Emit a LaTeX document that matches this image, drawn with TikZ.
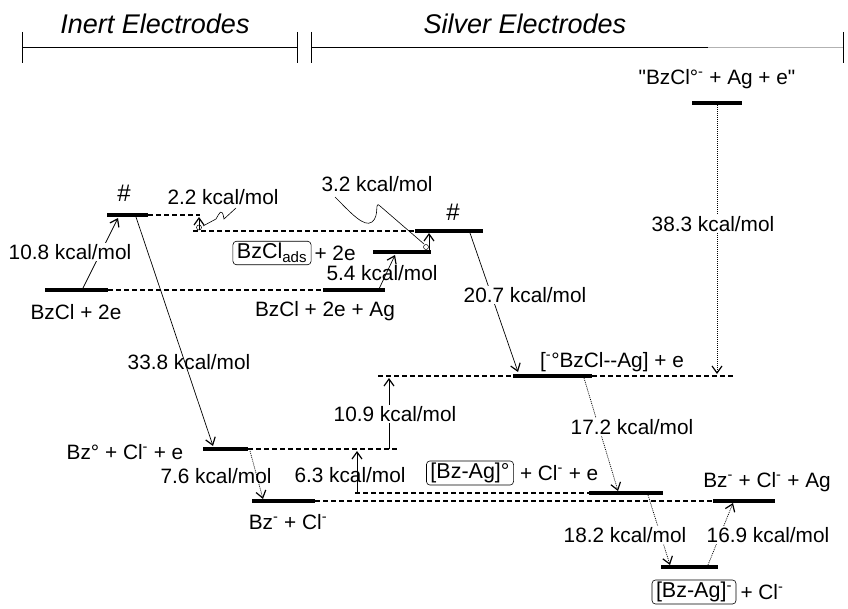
\documentclass[tikz,border=0pt]{standalone}
\usepackage{fontspec}
\setmainfont{Liberation Sans}[Ligatures=TeXOff]
\usetikzlibrary{arrows.meta,calc}
\begin{document}
\begin{tikzpicture}[x=1pt,y=-1pt,
  bar/.style={fill=black,inner sep=0pt,minimum height=4.5pt},
  lbl/.style={font=\fontsize{20.8}{22}\selectfont,inner sep=1pt},
  lblw/.style={lbl,fill=white},
  hashst/.style={font=\fontsize{24}{26}\selectfont,inner sep=1pt},
  hdr/.style={font=\fontsize{27}{29}\selectfont\itshape},
  dsh/.style={line width=1.2pt,dash pattern=on 5pt off 3pt},
  arr/.style={line width=0.7pt,-{Straight Barb[length=7pt,width=10pt,line width=1.2pt]}},
  dotarr/.style={arr,dash pattern=on 1pt off 1pt},
  boxed/.style={draw,rounded corners=3.5pt,line width=0.6pt,inner xsep=4pt,inner ysep=2pt,font=\fontsize{21.5}{23}\selectfont},
  squig/.style={line width=0.6pt},
]
\useasboundingbox (0,0) rectangle (848,609);

% headers
\node[hdr] (h1) at (155,24) {Inert Electrodes};
\node[hdr] (h2) at (525,24) {Silver Electrodes};
\coordinate (t1) at (22,47);
\coordinate (t2) at (297,47);
\coordinate (t3) at (311,47);
\coordinate (tg) at (708,47);
\coordinate (t4) at (843,47);
\draw[line width=0.8pt] (t1) -- (t2);
\draw[line width=0.8pt] (t3) -- (tg);
\draw[line width=0.8pt,gray!60] (tg) -- (t4);
\foreach \x in {22,297,311,843} \draw[line width=0.8pt] (\x,32) -- (\x,63);

% levels
\node[bar,minimum width=50pt] (ts) at (717,103) {};
\node[bar,minimum width=41pt] (tsL) at (127.5,215) {};
\node[bar,minimum width=63pt] (bzcl) at (76.5,290) {};
\node[bar,minimum width=68pt] (tsR) at (449,231) {};
\node[bar,minimum width=58pt] (ads) at (402,252) {};
\node[bar,minimum width=62pt] (bzag0) at (354,290) {};
\node[bar,minimum width=79pt] (rad) at (552.5,376) {};
\node[bar,minimum width=45pt] (bzrad) at (225.5,449) {};
\node[bar,minimum width=63pt] (bzan) at (283.5,501) {};
\node[bar,minimum width=74pt] (bzagrad) at (626,493) {};
\node[bar,minimum width=62pt] (bzanag) at (744,501) {};
\node[bar,minimum width=57pt] (bzagan) at (689.5,567) {};

% dashed connecting lines
\coordinate (d1) at (200,215);
\coordinate (d2) at (193,231);
\coordinate (d3) at (378,376);
\coordinate (d4) at (733,376);
\coordinate (d5) at (400,449);
\coordinate (d6) at (355,493);
\draw[dsh] (tsL.east) -- (d1);
\draw[dsh] (d2) -- (tsR.west);
\draw[dsh] (bzcl.east) -- (bzag0.west);
\draw[dsh] (d3) -- (rad.west);
\draw[dsh] (rad.east) -- (d4);
\draw[dsh] (bzrad.east) -- (d5);
\draw[dsh] (bzan.east) -- (bzanag.west);
\draw[dsh] (d6) -- (bzagrad.west);

% texts
\node[lbl] (tstxt) at (717,79) {"BzCl°\textsuperscript{-} + Ag + e"};
\node[hashst] (hashL) at (124,193) {\#};
\node[hashst] (hashR) at (453,212) {\#};
\node[lbl] (bzcltxt) at (76,312) {BzCl + 2e};
\node[lbl,boxed] (adsbox) at (272,253) {BzCl\textsubscript{ads}};
\node[lbl,anchor=west] (adstxt) at ([xshift=2pt]adsbox.east) {+ 2e};
\node[lbl] (bzagtxt) at (325,311) {BzCl + 2e + Ag};
\node[lbl] (radtxt) at (612,362) {[\textsuperscript{-}°BzCl--Ag] + e};
\node[lbl] (bzradtxt) at (125,452) {Bz° + Cl\textsuperscript{-} + e};
\node[lbl] (bzantxt) at (288,522) {Bz\textsuperscript{-} + Cl\textsuperscript{-}};
\node[lbl,boxed] (bzagbox) at (470,473) {[Bz-Ag]°};
\node[lbl,anchor=west] (bzagradtxt) at ([xshift=5pt]bzagbox.east) {+ Cl\textsuperscript{-} + e};
\node[lbl] (bzanagtxt) at (767,482) {Bz\textsuperscript{-} + Cl\textsuperscript{-} + Ag};
\node[lbl,boxed] (bzaganbox) at (694,592) {[Bz-Ag]\textsuperscript{-}};
\node[lbl,anchor=west] (bzagantxt) at ([xshift=3pt]bzaganbox.east) {+ Cl\textsuperscript{-}};

% arrows
\coordinate (e38) at (717,374);
\draw[dotarr] (ts.south) -- (e38);
\node[lblw] (l38) at (713,224) {38.3 kcal/mol};

\coordinate (a108s) at (83,288);
\coordinate (a108e) at (118,218);
\draw[arr] (a108s) -- (a108e);
\node[lblw] (l108) at (70,252) {10.8 kcal/mol};

\coordinate (a22s) at (199,230);
\coordinate (a22e) at (199,217);
\draw[arr] (a22s) -- (a22e);
\draw[line width=0.5pt] (199,227.5) circle (2.5pt);
\node[lbl] (l22) at (223,197) {2.2 kcal/mol};
\draw[squig] (236,208) -- (224,219) .. controls (222,206) and (219,214) .. (216,219) -- (203,226);

\coordinate (a32s) at (429,250);
\coordinate (a32e) at (429,233);
\draw[arr] (a32s) -- (a32e);
\draw[line width=0.5pt] (426,247) circle (2.5pt);
\node[lbl] (l32) at (377,184) {3.2 kcal/mol};
\draw[squig] (335,197) .. controls (350,212) and (364,228) .. (372,222) .. controls (380,216) and (374,200) .. (380,206) -- (424,244);

\coordinate (a54s) at (379,289);
\coordinate (a54e) at (395,255);
\node[lbl] (l54) at (382,273) {5.4 kcal/mol};
\draw[arr] (a54s) -- (a54e);

\coordinate (a207s) at (470,233);
\coordinate (a207e) at (518,372);
\draw[arr] (a207s) -- (a207e);
\node[lblw] (l207) at (525,295) {20.7 kcal/mol};

\coordinate (a338s) at (136,217);
\coordinate (a338e) at (213,446);
\node[lbl] (l338) at (189,362) {33.8 kcal/mol};
\draw[arr] (a338s) -- (a338e);

\coordinate (a109s) at (389,449);
\coordinate (a109e) at (389,378);
\draw[arr] (a109s) -- (a109e);
\node[lblw] (l109) at (395,414) {10.9 kcal/mol};

\coordinate (a76s) at (250,451);
\coordinate (a76e) at (263,499);
\node[lbl] (l76) at (216,476) {7.6 kcal/mol};
\draw[dotarr] (a76s) -- (a76e);

\coordinate (a63s) at (357,493);
\coordinate (a63e) at (357,451);
\node[lbl] (l63) at (350,475) {6.3 kcal/mol};
\draw[arr] (a63s) -- (a63e);

\coordinate (a172s) at (584,378);
\coordinate (a172e) at (618,491);
\draw[dotarr] (a172s) -- (a172e);
\node[lblw] (l172) at (632,427) {17.2 kcal/mol};

\coordinate (a182s) at (648,495);
\coordinate (a182e) at (670,565);
\draw[dotarr] (a182s) -- (a182e);
\node[lblw] (l182) at (625,535) {18.2 kcal/mol};

\coordinate (a169s) at (708,565);
\coordinate (a169e) at (733,503);
\draw[dotarr] (a169s) -- (a169e);
\node[lblw] (l169) at (768,535) {16.9 kcal/mol};
\end{tikzpicture}
\end{document}
